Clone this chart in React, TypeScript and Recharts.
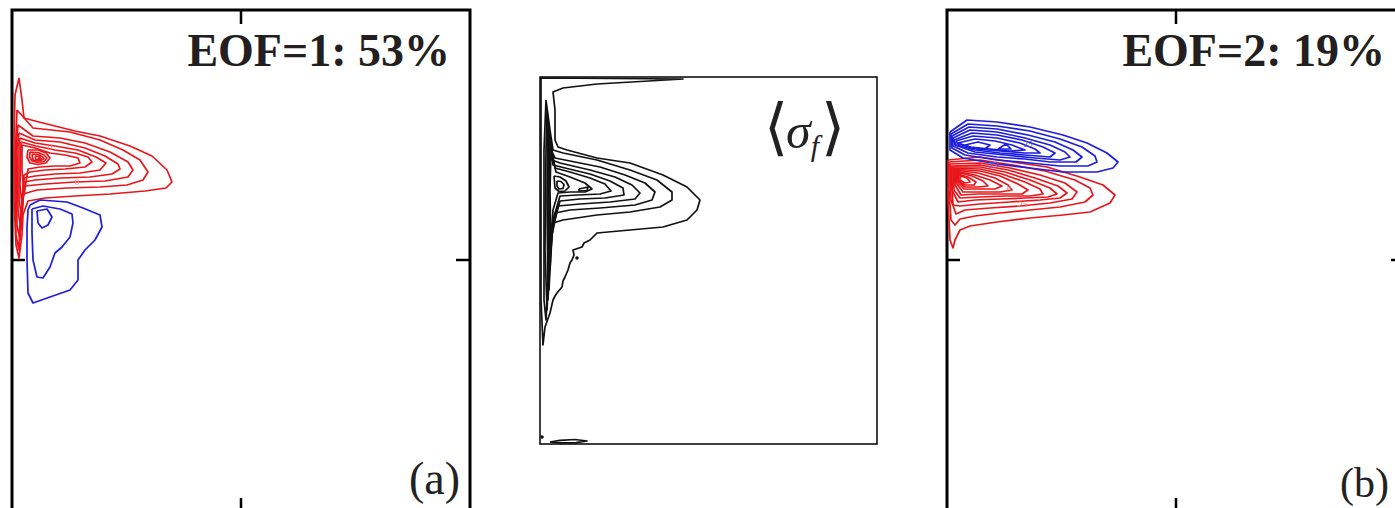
import React from "react";
import {
  LineChart,
  Line,
  XAxis,
  YAxis,
  ReferenceArea,
  ReferenceLine,
  ReferenceDot,
} from "recharts";

type Pt = [number, number];

// EOF 1, positive contours (red)
const eof1Pos: Pt[][] = [
  [[7,68],[10,90],[12,108],[23,111],[43,116],[63,121],[88,126],[118,136],[140,146],[155,160],[160,172],[154,178],[133,181],[98,184],[63,186],[33,188],[16,191],[11,205],[10,225],[7,248],[4,235],[2,190],[2,130],[3,85],[7,68]],
  [[5,100],[21,118],[58,122],[88,130],[111,140],[128,150],[136,162],[131,170],[115,175],[88,177],[55,178],[25,180],[11,184],[8,215],[7,240],[4,225],[3,150],[5,100]],
  [[6,115],[21,126],[48,128],[73,133],[98,142],[116,152],[121,160],[116,167],[93,171],[63,172],[33,174],[13,176],[9,205],[8,230],[5,215],[4,140],[6,115]],
  [[7,123],[23,130],[48,132],[73,138],[93,146],[106,154],[108,159],[100,164],[78,167],[48,168],[23,170],[12,172],[9,220],[6,200],[5,140],[7,123]],
  [[8,128],[23,133],[43,136],[66,140],[84,147],[94,153],[88,160],[68,163],[43,164],[23,166],[12,168],[10,210],[7,190],[7,135],[8,128]],
  [[9,132],[24,136],[43,140],[63,143],[76,147],[80,152],[73,157],[53,159],[33,160],[18,162],[12,165],[10,195],[8,175],[9,132]],
  [[10,135],[23,138],[38,143],[53,145],[66,148],[68,153],[58,156],[43,156],[28,157],[16,159],[12,185],[10,160],[10,135]],
  [[16,140],[26,140],[34,143],[38,148],[34,153],[26,154.5],[18,153],[15,147],[16,140]],
  [[18,142],[26,142.5],[32,145],[35,148],[32,151.5],[26,152.5],[20,151],[17.5,147],[18,142]],
  [[20,144],[26,144.5],[30,146.5],[32,148.5],[29,150.5],[25,151],[21,150],[20,144]],
  [[23,146],[27,146.5],[29,148.5],[27,150],[24,149.5],[23,146]],
];

// EOF 1, negative contours (blue)
const eof1Neg: Pt[][] = [
  [[18,195],[28,190],[55,192],[71,198],[88,205],[90,217],[83,230],[73,240],[66,250],[66,270],[58,280],[38,287],[21,293],[16,283],[15,250],[15,217],[16,200],[18,195]],
  [[20,199],[31,196],[48,199],[60,204],[61,213],[58,227],[50,237],[43,243],[38,257],[31,268],[25,267],[21,250],[20,223],[20,199]],
  [[25,201],[35,199],[40,207],[36,215],[30,218],[26,213],[25,201]],
];

// mean sigma_f contours (black)
const sigmaMean: Pt[][] = [
  [[1,1],[143,2],[57,7],[23,11],[13,15],[15,33],[15,63],[18,70],[27,73],[57,81],[90,86],[123,98],[147,110],[160,123],[157,133],[147,143],[123,150],[90,153],[57,156],[50,163],[44,166],[42,170],[33,173],[34,178],[32,183],[30,186],[28,193],[25,200],[23,204],[22,210],[17,216],[15,219],[13,223],[10,236],[5,250],[3,268],[1,223],[1,123],[1,1]],
  [[6,23],[10,53],[13,73],[23,76],[57,83],[90,93],[117,103],[132,115],[132,123],[120,130],[90,135],[57,138],[23,143],[13,146],[9,183],[6,243],[4,223],[4,73],[6,23]],
  [[7,33],[11,73],[15,81],[35,85],[60,90],[85,98],[105,106],[115,115],[112,123],[95,128],[60,131],[30,133],[15,136],[10,173],[7,233],[5,173],[6,73],[7,33]],
  [[8,43],[12,83],[20,86],[50,93],[75,100],[92,108],[100,116],[95,122],[70,125],[40,127],[18,129],[11,163],[8,223],[7,123],[8,43]],
  [[9,53],[13,88],[25,91],[50,97],[70,104],[83,111],[84,118],[65,121],[40,122],[20,124],[12,153],[9,213],[8,123],[9,53]],
  [[10,63],[15,91],[30,95],[50,101],[65,107],[71,114],[60,117],[38,118],[20,119],[13,143],[10,193],[9,113],[10,63]],
  [[11,73],[16,95],[30,100],[45,106],[52,112],[45,115],[30,115],[18,116],[13,133],[11,173],[10,113],[11,73]],
  [[14,99],[20,100],[26,104],[29,110],[25,114],[19,114.5],[15,111],[14,99]],
  [[17,104],[21,104.5],[24,107.5],[23,111.5],[19,112],[17,109],[17,104]],
  [[39,112],[48,110],[47,113.5],[39,114],[39,112]],
  [[10,365],[20,363.3],[35,362.5],[47,364],[36,365.6],[20,365.8],[10,365]],
];

// EOF 2, positive contours (red)
const eof2Pos: Pt[][] = [
  [[1,150],[33,147],[66,152],[100,157],[133,167],[156,175],[168,185],[163,193],[143,202],[116,205],[83,208],[50,212],[23,216],[13,220],[8,230],[6,238],[3,230],[1,190],[1,150]],
  [[2,152],[33,150],[66,155],[98,161],[128,170],[143,178],[146,185],[138,192],[113,197],[83,200],[53,203],[28,206],[13,209],[8,215],[4,210],[2,180],[2,152]],
  [[3,154],[33,153],[63,158],[93,165],[118,173],[130,182],[125,189],[103,193],[73,196],[43,198],[18,200],[9,204],[4,190],[3,154]],
  [[4,156],[33,155],[61,160],[88,168],[111,176],[120,183],[113,188],[93,190],[63,192],[33,194],[13,196],[6,195],[4,156]],
  [[5,157],[33,157],[58,162],[83,170],[103,178],[110,184],[101,187],[78,188],[53,189],[28,190],[11,192],[5,180],[5,157]],
  [[6,158],[33,159],[55,164],[78,172],[93,179],[96,184],[83,186],[58,186],[33,187],[13,188],[7,180],[6,158]],
  [[7,159],[33,161],[53,166],[71,174],[81,180],[75,184],[53,184],[31,184],[14,185],[8,175],[7,159]],
  [[8,160],[31,163],[48,168],[61,175],[65,180],[53,182],[33,182],[16,182],[9,173],[8,160]],
  [[9,161],[28,165],[43,170],[55,176],[48,179],[31,179],[17,179],[10,172],[9,161]],
  [[10,162],[25,166],[36,171],[41,176],[31,177],[18,177],[11,171],[10,162]],
  [[11,164],[21,167],[29,172],[27,175],[18,175],[12,171],[11,164]],
  [[13,166],[20,168],[23,172],[18,173],[13,170],[13,166]],
];

// EOF 2, negative contours (blue)
const eof2Neg: Pt[][] = [
  [[3,122],[20,110],[50,112],[83,117],[116,125],[140,133],[160,143],[171,152],[166,158],[150,162],[116,162],[83,158],[50,154],[16,148],[3,140],[3,122]],
  [[4,124],[21,114],[50,116],[83,121],[113,129],[135,137],[148,146],[150,152],[141,156],[113,156],[83,153],[50,150],[18,145],[5,138],[4,124]],
  [[5,126],[22,117],[50,119],[81,125],[108,132],[126,140],[135,147],[129,152],[103,152],[78,149],[50,147],[21,143],[6,136],[5,126]],
  [[6,128],[23,120],[50,122],[78,128],[103,135],[118,142],[123,147],[113,150],[88,148],[58,145],[28,142],[8,135],[6,128]],
  [[7,130],[25,123],[50,125],[75,130],[96,137],[108,143],[103,147],[78,145],[53,143],[28,140],[9,135],[7,130]],
  [[9,131],[26,126],[50,128],[73,133],[88,139],[93,143],[78,143],[53,141],[30,139],[11,134],[9,131]],
  [[11,133],[28,129],[48,131],[65,135],[78,140],[63,141],[43,139],[23,137],[11,133]],
  [[18,135],[31,132],[43,135],[38,139],[25,138],[18,135]],
  [[51,139],[59,134],[64,139],[51,139]],
];

const RED = "#e8161b";
const BLUE = "#1d1de0";
const INK = "#111";

interface Layer {
  contours: Pt[][];
  color: string;
}

interface Tick {
  from: { x: number; y: number };
  to: { x: number; y: number };
}

interface Mark {
  x: number;
  y: number;
  text?: string;
  color: string;
}

interface PanelProps {
  left: number;
  top: number;
  width: number;
  height: number;
  margin: { top: number; right: number; bottom: number; left: number };
  xMax: number;
  yMax: number;
  layers: Layer[];
  frameWidth: number;
  ticks: Tick[];
  marks?: Mark[];
}

const rows = (c: Pt[]) => c.map(([x, y]) => ({ x, y }));

const Panel: React.FC<PanelProps> = ({
  left,
  top,
  width,
  height,
  margin,
  xMax,
  yMax,
  layers,
  frameWidth,
  ticks,
  marks = [],
}) => (
  <div style={{ position: "absolute", left, top }}>
    <LineChart width={width} height={height} margin={margin}>
      <XAxis type="number" dataKey="x" domain={[0, xMax]} hide allowDataOverflow />
      <YAxis type="number" domain={[0, yMax]} reversed hide allowDataOverflow />
      {layers.map((layer, li) =>
        layer.contours.map((c, ci) => (
          <Line
            key={`c-${li}-${ci}`}
            data={rows(c)}
            dataKey="y"
            type="linear"
            stroke={layer.color}
            strokeWidth={1.7}
            strokeLinejoin="round"
            dot={false}
            activeDot={false}
            isAnimationActive={false}
          />
        ))
      )}
      <ReferenceArea
        x1={0}
        x2={xMax}
        y1={0}
        y2={yMax}
        fill="none"
        fillOpacity={0}
        stroke="#000"
        strokeWidth={frameWidth}
        ifOverflow="visible"
      />
      {ticks.map((t, i) => (
        <ReferenceLine
          key={`t-${i}`}
          segment={[t.from, t.to]}
          stroke="#000"
          strokeWidth={2.5}
          ifOverflow="visible"
        />
      ))}
      {marks.map((m, i) => (
        <ReferenceDot
          key={`m-${i}`}
          x={m.x}
          y={m.y}
          r={m.text ? 0 : 1.8}
          fill={m.color}
          stroke="none"
          label={
            m.text
              ? { value: m.text, fill: m.color, fontSize: 9, fontFamily: "Liberation Serif" }
              : undefined
          }
        />
      ))}
    </LineChart>
  </div>
);

const bigTicks = (xMax: number, yMax: number): Tick[] => [
  { from: { x: xMax / 2, y: 0 }, to: { x: xMax / 2, y: 14 } },
  { from: { x: xMax / 2, y: yMax }, to: { x: xMax / 2, y: yMax - 12 } },
  { from: { x: 0, y: yMax / 2 }, to: { x: 13, y: yMax / 2 } },
  { from: { x: xMax, y: yMax / 2 }, to: { x: xMax - 14, y: yMax / 2 } },
];

const App: React.FC = () => {
  const serif = "'Liberation Serif', 'Times New Roman', serif";
  return (
    <div
      style={{
        position: "absolute",
        left: 0,
        top: 0,
        width: 1395,
        height: 508,
        overflow: "hidden",
        background: "#fff",
      }}
    >
      <Panel
        left={0}
        top={0}
        width={490}
        height={520}
        margin={{ top: 10, right: 20, bottom: 10, left: 12 }}
        xMax={458}
        yMax={500}
        frameWidth={3}
        ticks={bigTicks(458, 500)}
        layers={[
          { contours: eof1Pos, color: RED },
          { contours: eof1Neg, color: BLUE },
        ]}
        marks={[
          { x: 27, y: 149, color: RED },
          { x: 38, y: 137, text: "0", color: "#f08080" },
          { x: 65, y: 172, text: "0", color: "#f08080" },
        ]}
      />
      <Panel
        left={520}
        top={57}
        width={380}
        height={410}
        margin={{ top: 20, right: 23, bottom: 23, left: 20 }}
        xMax={337}
        yMax={367}
        frameWidth={1.5}
        ticks={[]}
        layers={[{ contours: sigmaMean, color: INK }]}
        marks={[
          { x: 2, y: 360, color: INK },
          { x: 37, y: 181, color: INK },
        ]}
      />
      <Panel
        left={930}
        top={0}
        width={495}
        height={520}
        margin={{ top: 10, right: 20, bottom: 10, left: 17 }}
        xMax={458}
        yMax={500}
        frameWidth={3}
        ticks={bigTicks(458, 500)}
        layers={[
          { contours: eof2Pos, color: RED },
          { contours: eof2Neg, color: BLUE },
        ]}
        marks={[
          { x: 81, y: 134, text: "25", color: "#6a6af0" },
          { x: 46, y: 155, text: "25", color: "#6a6af0" },
          { x: 76, y: 194, text: "25", color: "#f07070" },
          { x: 62, y: 179, text: "0", color: "#f07070" },
        ]}
      />
      <svg
        width={1395}
        height={508}
        style={{ position: "absolute", left: 0, top: 0, pointerEvents: "none" }}
      >
        <text x={450} y={66} textAnchor="end" fontFamily={serif} fontWeight="bold" fontSize={46} fill="#231f20">
          EOF=1: 53%
        </text>
        <text x={1385} y={66} textAnchor="end" fontFamily={serif} fontWeight="bold" fontSize={46} fill="#231f20">
          EOF=2: 19%
        </text>
        <text x={460} y={494} textAnchor="end" fontFamily={serif} fontSize={46} fill="#222">
          (a)
        </text>
        <text x={1389} y={497} textAnchor="end" fontFamily={serif} fontSize={42} fill="#222">
          (b)
        </text>
        <text x={764} y={148} fontFamily={serif} fontSize={62} fill="#222">
          <tspan>⟨</tspan>
          <tspan fontStyle="italic" fontSize={50} dx={-2}>σ</tspan>
          <tspan fontStyle="italic" fontSize={30} dy={8}>f</tspan>
          <tspan dy={-8} dx={2}>⟩</tspan>
        </text>
      </svg>
    </div>
  );
};

export default App;
